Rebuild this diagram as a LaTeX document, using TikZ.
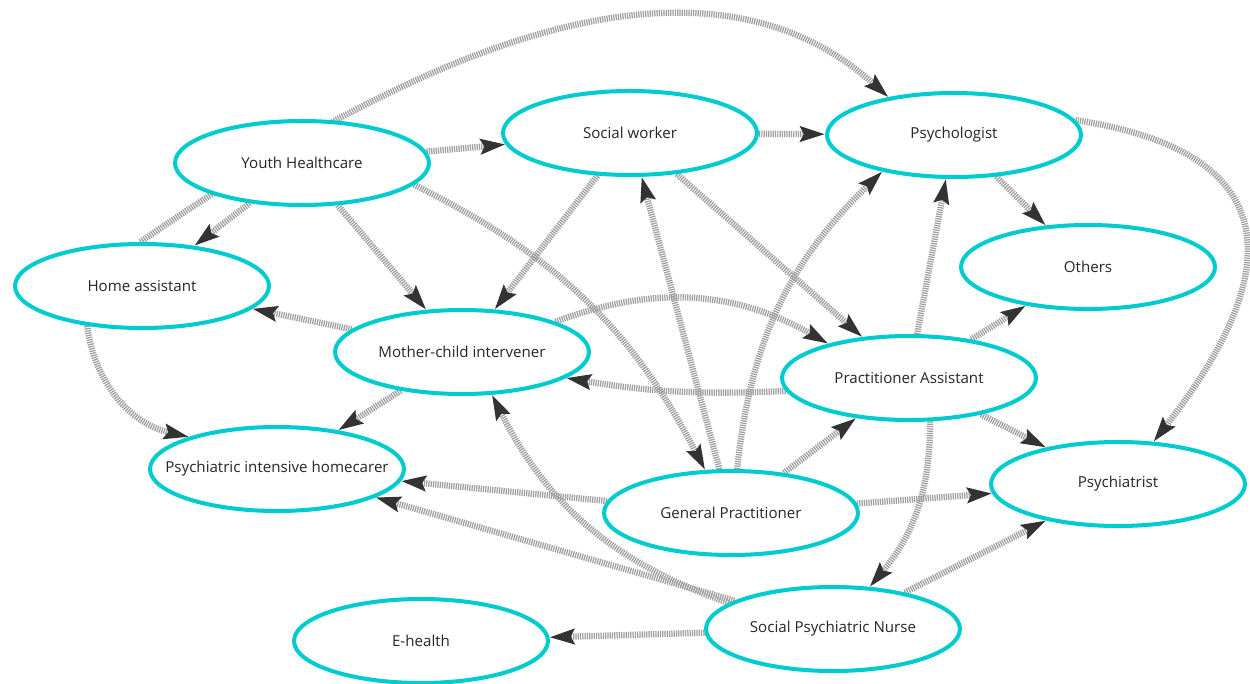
\documentclass[tikz,border=0pt]{standalone}
\usepackage{fontspec}
\setmainfont{Open Sans}
\usetikzlibrary{arrows.meta, shapes.geometric, backgrounds}
\definecolor{turq}{RGB}{0,204,208}

\begin{document}
\begin{tikzpicture}[x=0.02cm, y=-0.02cm,
  role/.style={ellipse, draw=turq, line width=2.3pt, fill=white,
    minimum width=5.08cm, minimum height=1.68cm, inner sep=0pt,
    font=\fontsize{8.6}{10}\selectfont, text=black!85,
    execute at begin node={\hbox to 0pt\bgroup\hss},
    execute at end node={\hss\egroup}},
  link/.style={draw=black!38, line width=3.6pt, dash pattern=on 0.7pt off 0.6pt,
    -{Stealth[length=14pt, width=8.5pt, inset=2pt, color=black!80]}}]
  \useasboundingbox (0,0) rectangle (1250,683);
  \node[role] (yh)  at (302,163)  {Youth Healthcare};
  \node[role] (sw)  at (630,133)  {Social worker};
  \node[role] (psy) at (954,135)  {Psychologist};
  \node[role] (ha)  at (142,286)  {Home assistant};
  \node[role] (oth) at (1088,267) {Others};
  \node[role] (mci) at (462,352)  {Mother-child intervener};
  \node[role] (pa)  at (909,378)  {Practitioner Assistant};
  \node[role] (pih) at (277,469)  {Psychiatric intensive homecarer};
  \node[role] (gp)  at (731,513)  {General Practitioner};
  \node[role] (pst) at (1118,484) {Psychiatrist};
  \node[role] (spn) at (833,629)  {Social Psychiatric Nurse};
  \node[role] (eh)  at (421,641)  {E-health};
  \begin{scope}[on background layer]
    % top row
    \draw[link] (ha.92) .. controls (360,90) and (680,-90) .. (psy.150);
    \draw[link] (yh) -- (sw);
    \draw[link] (sw) -- (psy);
    \draw[link] (yh) -- (ha);
    \draw[link] (yh) -- (mci);
    \draw[link] (yh.-11) to[bend left=18] (gp.121);
    \draw[link] (sw) -- (mci);
    \draw[link] (sw) -- (pa);
    \draw[link] (psy) -- (oth);
    \draw[link] (psy.7) .. controls (1286,152) and (1288,270) .. (pst.50);
    % middle
    \draw[link] (ha.216) to[bend right=35] (pih.160);
    \draw[link] (mci) -- (ha);
    \draw[link] (mci) -- (pih);
    \draw[link] (mci.18) to[bend left=25] (pa.157);
    \draw[link] (pa.186) to[bend left=6] (mci.-14);
    \draw[link] (pa) -- (psy);
    \draw[link] (pa) -- (oth);
    \draw[link] (pa) -- (pst);
    \draw[link] (pa.-64) to[bend left=20] (spn.49);
    % general practitioner
    \draw[link] (gp) -- (sw);
    \draw[link] (gp.82) to[bend left=20] (psy.207);
    \draw[link] (gp) -- (pa);
    \draw[link] (gp) -- (pst);
    \draw[link] (gp) -- (pih);
    % nurse
    \draw[link] (spn) -- (pst);
    \draw[link] (spn) -- (pih);
    \draw[link] (spn.166) to[bend left=22] (mci.-55);
    \draw[link] (spn) -- (eh);
  \end{scope}
\end{tikzpicture}
\end{document}
